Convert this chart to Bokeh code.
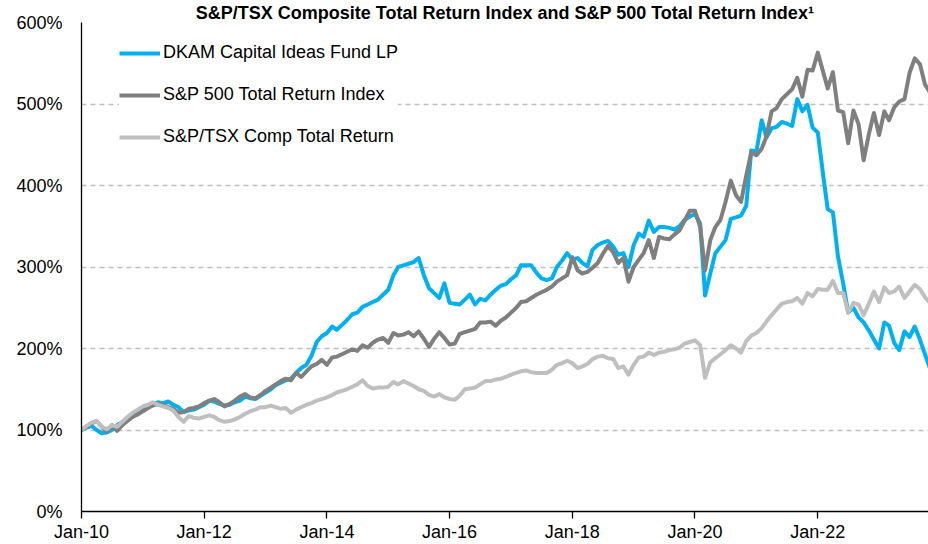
import pandas as pd
from datetime import datetime
from bokeh.plotting import figure
from bokeh.models import (Legend, LegendItem, FixedTicker,
                          DatetimeTickFormatter, PrintfTickFormatter, Range1d)
from bokeh.embed import file_html
from bokeh.resources import INLINE

START = "2010-01-01"

dkam = [100, 103, 105, 100, 96, 97, 100, 106, 110, 114, 118, 122,
        126, 130, 132, 134, 133, 135, 131, 128, 122, 124, 125, 128,
        131, 136, 135, 132, 130, 131, 134, 136, 141, 139, 138, 142,
        146, 150, 155, 158, 161, 163, 170, 176, 180, 191, 208, 215,
        219, 227, 223, 229, 235, 242, 244, 251, 254, 257, 260, 266,
        272, 290, 300, 302, 304, 306, 311, 290, 274, 268, 262, 280,
        256, 255, 254, 260, 266, 254, 261, 259, 266, 272, 277, 279,
        285, 290, 302, 302, 302, 293, 286, 284, 286, 300, 308, 317,
        309, 311, 305, 301, 321, 327, 330, 332, 325, 315, 317, 300,
        327, 341, 337, 357, 343, 349, 349, 348, 346, 350, 358, 362,
        365, 353, 265, 292, 317, 325, 333, 359, 361, 363, 375, 443,
        442, 480, 459, 470, 472, 478, 476, 473, 506, 491, 499, 471,
        465, 414, 371, 367, 313, 280, 244, 250, 238, 232, 222, 211,
        200, 232, 228, 207, 198, 221, 214, 227, 211, 193, 175]

sp500 = [100, 104, 108, 111, 104, 98, 106, 99, 106, 111, 116, 119,
         123, 127, 130, 132, 131, 128, 126, 121, 122, 126, 127, 129,
         133, 136, 138, 134, 129, 132, 136, 141, 144, 140, 139, 143,
         148, 152, 156, 160, 163, 161, 170, 165, 172, 178, 181, 186,
         180, 189, 190, 193, 196, 199, 197, 204, 201, 207, 211, 213,
         207, 219, 216, 217, 220, 215, 221, 212, 202, 212, 220, 213,
         205, 206, 218, 220, 222, 224, 232, 232, 233, 228, 234, 238,
         244, 250, 257, 258, 262, 266, 269, 272, 276, 282, 286, 290,
         312, 296, 292, 294, 299, 305, 316, 326, 318, 305, 311, 282,
         300, 309, 317, 333, 311, 337, 335, 334, 340, 345, 357, 369,
         369, 349, 296, 333, 349, 358, 380, 406, 388, 380, 412, 441,
         437, 445, 460, 491, 495, 506, 512, 518, 532, 509, 542, 541,
         563, 540, 519, 539, 492, 490, 452, 492, 475, 431, 463, 489,
         462, 491, 480, 496, 503, 506, 538, 556, 549, 524, 514]

tsx = [100, 105, 109, 111, 104, 101, 106, 104, 110, 116, 121, 125,
       129, 131, 134, 131, 129, 127, 124, 116, 110, 117, 115, 114,
       116, 118, 116, 112, 110, 111, 113, 116, 120, 123, 125, 128,
       128, 130, 128, 126, 127, 121, 125, 128, 131, 133, 136, 138,
       140, 143, 146, 148, 150, 153, 156, 161, 154, 151, 152, 152,
       153, 159, 156, 160, 157, 154, 150, 148, 143, 141, 144, 140,
       138, 137, 142, 150, 151, 152, 156, 160, 160, 162, 163, 165,
       168, 170, 172, 173, 171, 170, 170, 170, 174, 180, 182, 185,
       182, 176, 178, 181, 187, 190, 191, 188, 187, 176, 178, 168,
       180, 189, 190, 195, 192, 195, 196, 198, 199, 201, 206, 208,
       210, 204, 164, 183, 188, 193, 198, 204, 200, 195, 209, 216,
       219, 225, 233, 241, 248, 255, 257, 258, 262, 255, 268, 264,
       273, 272, 272, 283, 268, 268, 244, 256, 254, 241, 255, 270,
       257, 275, 268, 270, 276, 262, 270, 278, 273, 263, 256]

series_names = ["DKAM Capital Ideas Fund LP",
                "S&P 500 Total Return Index",
                "S&P/TSX Comp Total Return"]
tick_years = [2010, 2012, 2014, 2016, 2018, 2020, 2022]
y_ticks = [0, 100, 200, 300, 400, 500, 600]
title_text = "S&P/TSX Composite Total Return Index and S&P 500 Total Return Index\u00b9"

dates = pd.date_range(START, periods=len(dkam), freq="MS")

FONT = "Liberation Sans"

p = figure(width=928, height=544, x_axis_type="datetime",
           output_backend="svg", toolbar_location=None,
           x_range=Range1d(datetime(2010, 1, 1), datetime(2023, 10, 22)),
           y_range=Range1d(0, 600),
           min_border_left=81, min_border_right=0,
           min_border_top=21, min_border_bottom=31)
p.outline_line_color = None
p.background_fill_color = "white"
p.border_fill_color = "white"

p.title.text = title_text
p.title.align = "center"
p.title.text_font = FONT
p.title.text_font_style = "bold"
p.title.text_font_size = "18px"
p.title.text_color = "#000000"
p.title.standoff = 0
p.title.offset = -7

r1 = p.line(dates, dkam, line_color="#00B0F0", line_width=4, line_join="round")
r2 = p.line(dates, sp500, line_color="#7F7F7F", line_width=4, line_join="round")
r3 = p.line(dates, tsx, line_color="#BFBFBF", line_width=4, line_join="round")

# x axis
x_ticks = [pd.Timestamp(f"{y}-01-01").value // 10**6 for y in tick_years]
p.xaxis.ticker = FixedTicker(ticks=x_ticks)
p.xaxis.formatter = DatetimeTickFormatter(years="%b-%y", months="%b-%y",
                                          days="%b-%y", hours="%b-%y")
p.xaxis.major_tick_out = 7
p.xaxis.major_tick_in = 0
p.xaxis.minor_tick_out = 0
p.xaxis.minor_tick_in = 0
p.xaxis.major_tick_line_color = "#000000"
p.xaxis.major_tick_line_width = 1.3
p.xaxis.axis_line_color = "#000000"
p.xaxis.axis_line_width = 1.5
p.xaxis.major_label_standoff = 3
p.xaxis.major_label_text_font = FONT
p.xaxis.major_label_text_font_size = "18px"
p.xaxis.major_label_text_color = "#000000"

# y axis
p.yaxis.ticker = FixedTicker(ticks=y_ticks)
p.yaxis.formatter = PrintfTickFormatter(format="%d%%")
p.yaxis.major_tick_out = 0
p.yaxis.major_tick_in = 0
p.yaxis.minor_tick_out = 0
p.yaxis.minor_tick_in = 0
p.yaxis.axis_line_color = "#000000"
p.yaxis.axis_line_width = 1.3
p.yaxis.major_label_standoff = 19
p.yaxis.major_label_text_font = FONT
p.yaxis.major_label_text_font_size = "18px"
p.yaxis.major_label_text_color = "#000000"

p.xgrid.visible = False
p.ygrid.ticker = FixedTicker(ticks=y_ticks)
p.ygrid.grid_line_color = "#BFBFBF"
p.ygrid.grid_line_dash = "5 4"
p.ygrid.grid_line_width = 1.3

legend = Legend(items=[LegendItem(label=series_names[0], renderers=[r1]),
                       LegendItem(label=series_names[1], renderers=[r2]),
                       LegendItem(label=series_names[2], renderers=[r3])],
                location=(38, 364), glyph_width=41, glyph_height=20,
                label_height=20, label_standoff=3, spacing=21, padding=20,
                margin=0, border_line_color=None,
                background_fill_color="white", background_fill_alpha=1.0,
                label_text_font=FONT, label_text_font_size="18px",
                label_text_color="#000000")
p.add_layout(legend)

open("out.html", "w").write(file_html(p, INLINE))
